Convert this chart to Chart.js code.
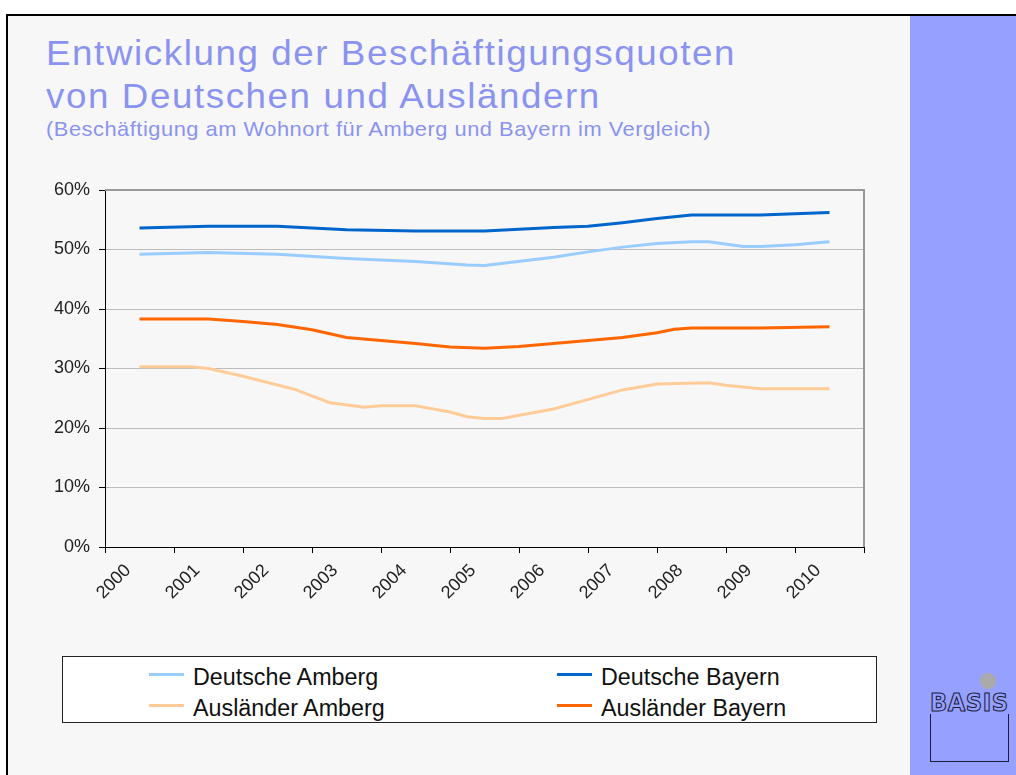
<!DOCTYPE html>
<html>
<head>
<meta charset="utf-8">
<script src="https://cdn.jsdelivr.net/npm/chart.js@4.4.1/dist/chart.umd.min.js"></script>
<style>
  body { margin: 0; width: 1016px; height: 775px; background: #fff; position: relative; overflow: hidden; font-family: "Liberation Sans", Arial, sans-serif; }
  #frame { position: absolute; left: 6px; top: 14px; width: 1010px; height: 761px; border-top: 2px solid #000; border-left: 2px solid #000; background: #f7f7f7; }
  #band { position: absolute; left: 910px; top: 16px; width: 106px; height: 759px; background: #96a0ff; }
  #title { position: absolute; left: 46px; top: 31px; font-size: 35px; line-height: 43px; letter-spacing: 1.5px; color: #8a93f0; white-space: nowrap; transform: scaleX(1.05); transform-origin: left top; }
  #subtitle { position: absolute; left: 46px; top: 117px; font-size: 21px; line-height: 24px; letter-spacing: 0.5px; color: #8a93f0; white-space: nowrap; transform: scaleX(1.04); transform-origin: left top; }
  #wrap { position: absolute; left: 0; top: 170px; width: 910px; height: 460px; }
  #legend { position: absolute; left: 62px; top: 656px; width: 813px; height: 65px; background: #fff; border: 1px solid #222; }
  .item { position: absolute; font-size: 23.3px; color: #111; white-space: nowrap; line-height: 26px; }
  .item span.line { position: absolute; left: -44px; top: 9px; width: 35px; height: 3px; }
  #dot { position: absolute; left: 980px; top: 673px; width: 16px; height: 16px; border-radius: 50%; background: #aaa; }
  #logo { position: absolute; left: 930px; top: 689px; font: bold 24px "DejaVu Sans Condensed", sans-serif; letter-spacing: 0.5px; color: transparent; -webkit-text-stroke: 1px #1c1c3a; transform: scaleX(1.05); transform-origin: left top; }
  #box { position: absolute; left: 930px; top: 714px; width: 77px; height: 47px; border: 1px solid #1c1c3a; border-top: none; }
</style>
</head>
<body>
<div id="frame"></div>
<div id="band"></div>
<div id="title">Entwicklung der Beschäftigungsquoten<br>von Deutschen und Ausländern</div>
<div id="subtitle">(Beschäftigung am Wohnort für Amberg und Bayern im Vergleich)</div>
<div id="wrap"><canvas id="mycanvas"></canvas></div>
<div id="legend"></div>
<div id="dot"></div>
<div id="logo">BASIS</div>
<div id="box"></div>
<script>
// axis years (tick labels 2000..2010, last tick at 2011 has no label)
var tickYears = [2000, 2001, 2002, 2003, 2004, 2005, 2006, 2007, 2008, 2009, 2010];

// Deutsche Amberg
var deAmbergYears  = [2000.5, 2001.5, 2002.5, 2003.5, 2004.5, 2005.25, 2005.5, 2006.5, 2007.0, 2007.5, 2008.0, 2008.5, 2008.75, 2009.25, 2009.5, 2010.0, 2010.5];
var deAmbergValues = [49.2, 49.5, 49.2, 48.5, 48.0, 47.4, 47.3, 48.7, 49.6, 50.4, 51.0, 51.3, 51.3, 50.5, 50.5, 50.8, 51.3];

// Deutsche Bayern
var deBayernYears  = [2000.5, 2001.5, 2002.5, 2003.5, 2004.5, 2005.5, 2006.5, 2007.0, 2007.5, 2008.0, 2008.5, 2009.5, 2010.5];
var deBayernValues = [53.6, 53.9, 53.9, 53.3, 53.1, 53.1, 53.7, 53.9, 54.5, 55.2, 55.8, 55.8, 56.2];

// Ausländer Amberg
var auAmbergYears  = [2000.5, 2001.25, 2001.5, 2002.0, 2002.75, 2003.25, 2003.75, 2004.0, 2004.5, 2005.0, 2005.25, 2005.5, 2005.75, 2006.5, 2007.5, 2008.0, 2008.75, 2009.0, 2009.5, 2010.5];
var auAmbergValues = [30.3, 30.3, 30.0, 28.7, 26.5, 24.3, 23.5, 23.75, 23.75, 22.7, 21.9, 21.6, 21.6, 23.2, 26.4, 27.4, 27.6, 27.2, 26.6, 26.6];

// Ausländer Bayern
var auBayernYears  = [2000.5, 2001.5, 2002.0, 2002.5, 2003.0, 2003.5, 2004.5, 2005.0, 2005.5, 2006.0, 2006.5, 2007.5, 2008.0, 2008.25, 2008.5, 2009.5, 2010.5];
var auBayernValues = [38.3, 38.3, 37.9, 37.4, 36.5, 35.2, 34.2, 33.6, 33.4, 33.7, 34.2, 35.2, 36.0, 36.6, 36.8, 36.8, 37.0];

function points(xs, ys) {
  var out = [];
  for (var i in xs) {
    out.push({x: xs[i], y: ys[i]});
  }
  return out;
}

var chartdata = {
  datasets: [
    { label: 'Deutsche Amberg',  borderColor: '#99ccff', data: points(deAmbergYears, deAmbergValues) },
    { label: 'Deutsche Bayern',  borderColor: '#0066cc', data: points(deBayernYears, deBayernValues) },
    { label: 'Ausländer Amberg', borderColor: '#ffcc99', data: points(auAmbergYears, auAmbergValues) },
    { label: 'Ausländer Bayern', borderColor: '#ff6600', data: points(auBayernYears, auBayernValues) }
  ]
};
chartdata.datasets.forEach(function(ds) {
  ds.borderWidth = 3;
  ds.pointRadius = 0;
  ds.tension = 0;
  ds.fill = false;
});

// gray frame on top and right of the plot area
var plotFrame = {
  id: 'plotFrame',
  afterDraw: function(chart) {
    var a = chart.chartArea, c = chart.ctx;
    c.save();
    c.strokeStyle = '#999';
    c.lineWidth = 2;
    c.beginPath();
    c.moveTo(a.left, a.top);
    c.lineTo(a.right, a.top);
    c.lineTo(a.right, a.bottom);
    c.stroke();
    c.restore();
  }
};

var ctx = document.getElementById('mycanvas');
var lineGraph = new Chart(ctx, {
  type: 'line',
  data: chartdata,
  plugins: [plotFrame],
  options: {
    responsive: true,
    maintainAspectRatio: false,
    animation: false,
    layout: { padding: { top: 20, right: 46, left: 0, bottom: 0 } },
    plugins: { legend: { display: false }, tooltip: { enabled: false } },
    scales: {
      x: {
        type: 'linear',
        min: 2000,
        max: 2011,
        afterFit: function(s) { s.height = 83; },
        afterBuildTicks: function(s) {
          s.ticks = [];
          for (var y = 2000; y <= 2011; y++) s.ticks.push({value: y});
        },
        border: { color: '#000', width: 1 },
        grid: { drawOnChartArea: false, tickLength: 6, tickColor: '#000' },
        ticks: {
          minRotation: 45, maxRotation: 45,
          labelOffset: 23,
          padding: 7,
          color: '#222',
          font: { family: 'Liberation Sans', size: 18 },
          callback: function(v) { return tickYears.indexOf(v) >= 0 ? String(v) : ''; }
        }
      },
      y: {
        min: 0,
        max: 60,
        afterFit: function(s) { s.width = 105; },
        border: { color: '#000', width: 1 },
        grid: { color: '#bdbdbd', tickLength: 6, tickColor: '#000' },
        ticks: {
          stepSize: 10,
          padding: 9,
          color: '#222',
          font: { family: 'Liberation Sans', size: 18 },
          callback: function(v) { return v + '%'; }
        }
      }
    }
  }
});

// two-column legend box under the chart
var legendPos = [[192, 7], [600, 7], [192, 38], [600, 38]];
var legend = document.getElementById('legend');
chartdata.datasets.forEach(function(ds, i) {
  var d = document.createElement('div');
  d.className = 'item';
  d.style.left = (legendPos[i][0] - 62) + 'px';
  d.style.top = legendPos[i][1] + 'px';
  d.innerHTML = '<span class="line" style="background:' + ds.borderColor + '"></span>' + ds.label;
  legend.appendChild(d);
});
</script>
</body>
</html>
